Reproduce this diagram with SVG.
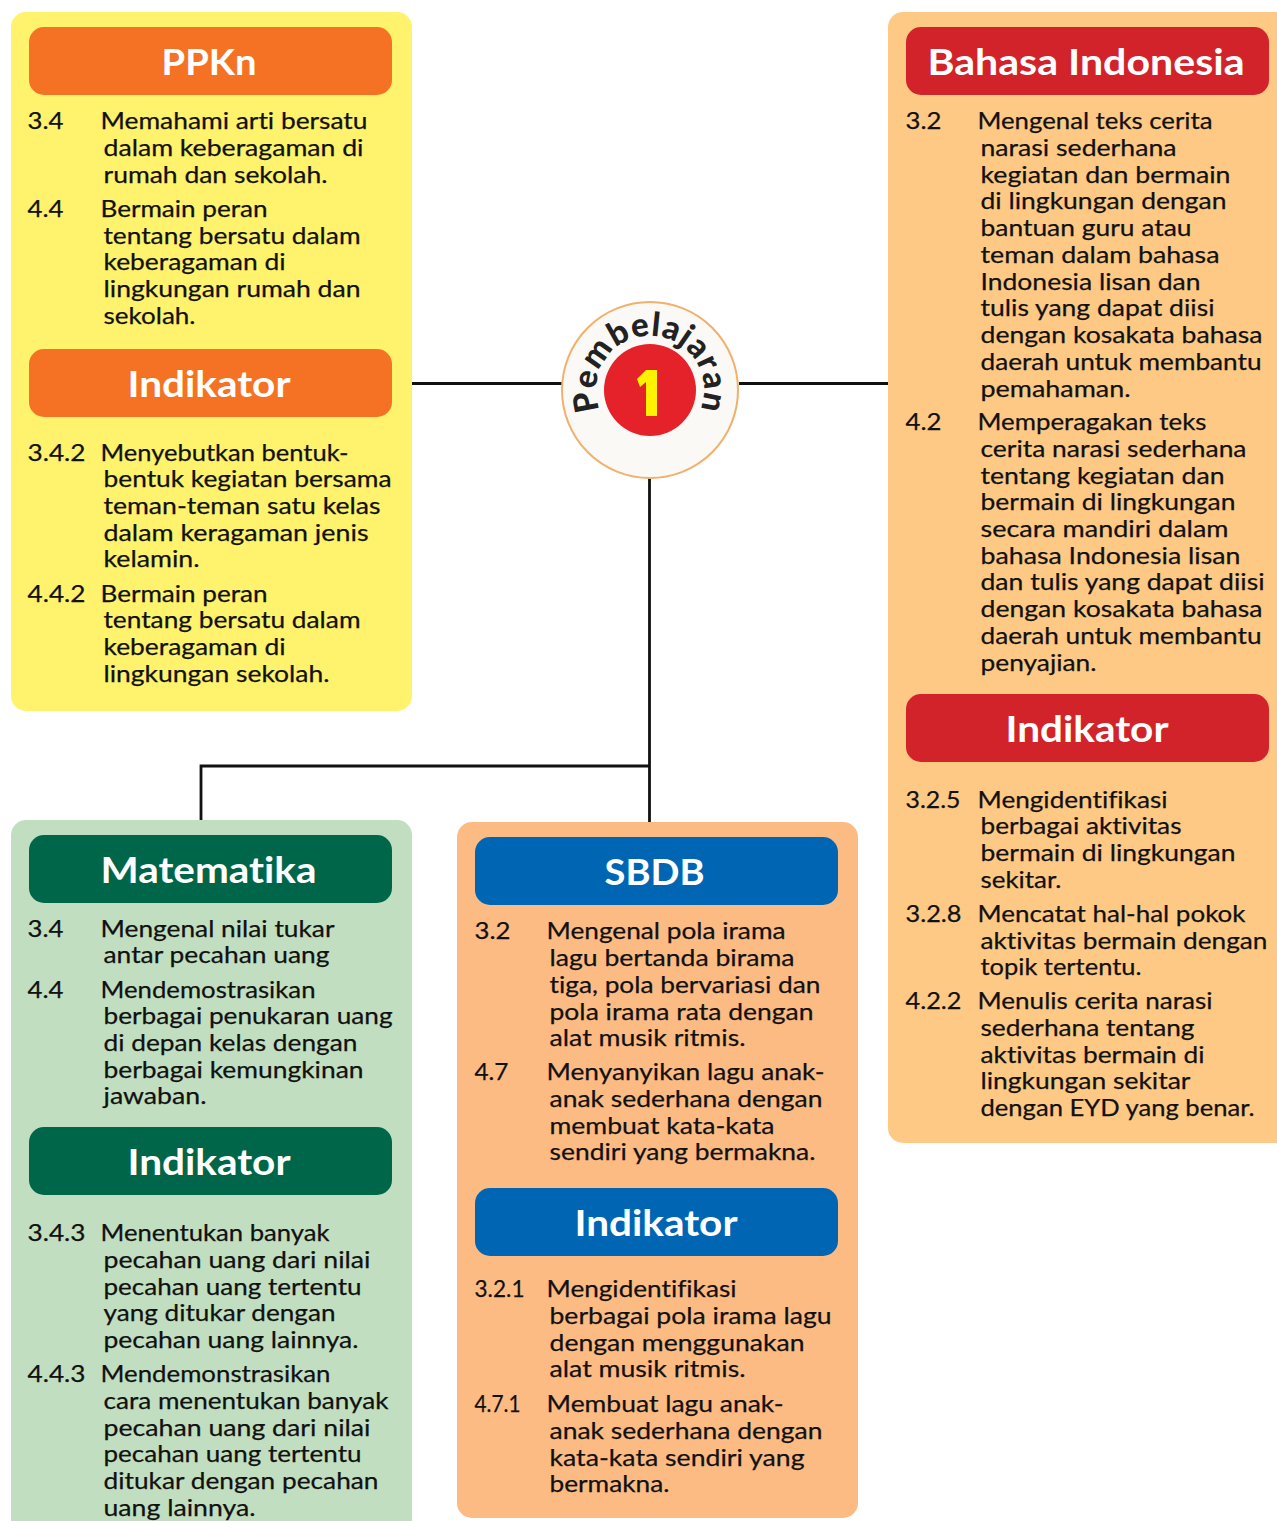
<svg xmlns="http://www.w3.org/2000/svg" width="1277" height="1521" viewBox="0 0 1277 1521">
<style>
text{font-family:"Lato","Noto Sans",sans-serif;font-variant-ligatures:none}
.t{font-size:24px;fill:#111;stroke:#111;stroke-width:.25px;transform:translate(-.5px,-1px)}
.h{font-size:37px;font-weight:700;fill:#fff;text-anchor:start;transform:translate(-.5px,-1px)}
.c{fill:none;stroke:#111;stroke-width:2.8}
</style>
<rect width="1277" height="1521" fill="#fff"/>
<g id="connectors">
<path class="c" d="M412 383.5H562M739 383.5H888M649.5 478V822M649.5 766H201V820"/>
</g>
<g id="ppkn">
<rect x="11" y="12" width="401" height="699" rx="15" fill="#fff26c"/>
<rect x="29" y="27" width="363" height="68" rx="15" fill="#f57224"/>
<text class="h" x="162" y="76" textLength="95" lengthAdjust="spacingAndGlyphs">PPKn</text>
<text class="t" x="28" y="130" textLength="36" lengthAdjust="spacingAndGlyphs">3.4</text>
<text class="t" x="101" y="130" textLength="267" lengthAdjust="spacingAndGlyphs">Memahami arti bersatu</text>
<text class="t" x="104" y="157" textLength="260" lengthAdjust="spacingAndGlyphs">dalam keberagaman di</text>
<text class="t" x="104" y="184" textLength="224" lengthAdjust="spacingAndGlyphs">rumah dan sekolah.</text>
<text class="t" x="28" y="218" textLength="36" lengthAdjust="spacingAndGlyphs">4.4</text>
<text class="t" x="101" y="218" textLength="167" lengthAdjust="spacingAndGlyphs">Bermain peran</text>
<text class="t" x="104" y="245" textLength="257" lengthAdjust="spacingAndGlyphs">tentang bersatu dalam</text>
<text class="t" x="104" y="271" textLength="182" lengthAdjust="spacingAndGlyphs">keberagaman di</text>
<text class="t" x="104" y="298" textLength="257" lengthAdjust="spacingAndGlyphs">lingkungan rumah dan</text>
<text class="t" x="104" y="325" textLength="92" lengthAdjust="spacingAndGlyphs">sekolah.</text>
<rect x="29" y="349" width="363" height="68" rx="15" fill="#f57224"/>
<text class="h" x="128" y="398" textLength="163" lengthAdjust="spacingAndGlyphs">Indikator</text>
<text class="t" x="28" y="462" textLength="58" lengthAdjust="spacingAndGlyphs">3.4.2</text>
<text class="t" x="101" y="462" textLength="248" lengthAdjust="spacingAndGlyphs">Menyebutkan bentuk-</text>
<text class="t" x="104" y="488" textLength="288" lengthAdjust="spacingAndGlyphs">bentuk kegiatan bersama</text>
<text class="t" x="104" y="515" textLength="277" lengthAdjust="spacingAndGlyphs">teman-teman satu kelas</text>
<text class="t" x="104" y="542" textLength="265" lengthAdjust="spacingAndGlyphs">dalam keragaman jenis</text>
<text class="t" x="104" y="568" textLength="96" lengthAdjust="spacingAndGlyphs">kelamin.</text>
<text class="t" x="28" y="603" textLength="58" lengthAdjust="spacingAndGlyphs">4.4.2</text>
<text class="t" x="101" y="603" textLength="167" lengthAdjust="spacingAndGlyphs">Bermain peran</text>
<text class="t" x="104" y="629" textLength="257" lengthAdjust="spacingAndGlyphs">tentang bersatu dalam</text>
<text class="t" x="104" y="656" textLength="182" lengthAdjust="spacingAndGlyphs">keberagaman di</text>
<text class="t" x="104" y="683" textLength="226" lengthAdjust="spacingAndGlyphs">lingkungan sekolah.</text>
</g>
<g id="pembelajaran">
<circle cx="650" cy="390" r="88" fill="#fbf9f6" stroke="#f2b06c" stroke-width="2"/>
<circle cx="650" cy="390" r="46" fill="#e5222a"/>
<path d="M637 379 L646 370 H657 V416 H646 V382 L640 387Z" fill="#fff200"/>
<defs><path id="arc" d="M597.4 402 A54 54 0 1 1 702.6 402"/></defs>
<text font-size="33" font-weight="900" fill="#222" letter-spacing=".8" text-anchor="middle"><textPath href="#arc" startOffset="50%">Pembelajaran</textPath></text>
</g>
<g id="bahasa-indonesia">
<rect x="888" y="12" width="405" height="1131" rx="15" fill="#fec985"/>
<rect x="906" y="27" width="363" height="68" rx="15" fill="#d2232a"/>
<text class="h" x="928" y="76" textLength="317" lengthAdjust="spacingAndGlyphs">Bahasa Indonesia</text>
<text class="t" x="906" y="130" textLength="36" lengthAdjust="spacingAndGlyphs">3.2</text>
<text class="t" x="978" y="130" textLength="235" lengthAdjust="spacingAndGlyphs">Mengenal teks cerita</text>
<text class="t" x="981" y="157" textLength="196" lengthAdjust="spacingAndGlyphs">narasi sederhana</text>
<text class="t" x="981" y="184" textLength="250" lengthAdjust="spacingAndGlyphs">kegiatan dan bermain</text>
<text class="t" x="981" y="210" textLength="246" lengthAdjust="spacingAndGlyphs">di lingkungan dengan</text>
<text class="t" x="981" y="237" textLength="211" lengthAdjust="spacingAndGlyphs">bantuan guru atau</text>
<text class="t" x="981" y="264" textLength="239" lengthAdjust="spacingAndGlyphs">teman dalam bahasa</text>
<text class="t" x="981" y="291" textLength="220" lengthAdjust="spacingAndGlyphs">Indonesia lisan dan</text>
<text class="t" x="981" y="317" textLength="234" lengthAdjust="spacingAndGlyphs">tulis yang dapat diisi</text>
<text class="t" x="981" y="344" textLength="282" lengthAdjust="spacingAndGlyphs">dengan kosakata bahasa</text>
<text class="t" x="981" y="371" textLength="281" lengthAdjust="spacingAndGlyphs">daerah untuk membantu</text>
<text class="t" x="981" y="398" textLength="150" lengthAdjust="spacingAndGlyphs">pemahaman.</text>
<text class="t" x="906" y="431" textLength="36" lengthAdjust="spacingAndGlyphs">4.2</text>
<text class="t" x="978" y="431" textLength="229" lengthAdjust="spacingAndGlyphs">Memperagakan teks</text>
<text class="t" x="981" y="458" textLength="266" lengthAdjust="spacingAndGlyphs">cerita narasi sederhana</text>
<text class="t" x="981" y="485" textLength="244" lengthAdjust="spacingAndGlyphs">tentang kegiatan dan</text>
<text class="t" x="981" y="511" textLength="255" lengthAdjust="spacingAndGlyphs">bermain di lingkungan</text>
<text class="t" x="981" y="538" textLength="248" lengthAdjust="spacingAndGlyphs">secara mandiri dalam</text>
<text class="t" x="981" y="565" textLength="260" lengthAdjust="spacingAndGlyphs">bahasa Indonesia lisan</text>
<text class="t" x="981" y="591" textLength="284" lengthAdjust="spacingAndGlyphs">dan tulis yang dapat diisi</text>
<text class="t" x="981" y="618" textLength="282" lengthAdjust="spacingAndGlyphs">dengan kosakata bahasa</text>
<text class="t" x="981" y="645" textLength="281" lengthAdjust="spacingAndGlyphs">daerah untuk membantu</text>
<text class="t" x="981" y="672" textLength="116" lengthAdjust="spacingAndGlyphs">penyajian.</text>
<rect x="906" y="694" width="363" height="68" rx="15" fill="#d2232a"/>
<text class="h" x="1006" y="743" textLength="163" lengthAdjust="spacingAndGlyphs">Indikator</text>
<text class="t" x="906" y="809" textLength="55" lengthAdjust="spacingAndGlyphs">3.2.5</text>
<text class="t" x="978" y="809" textLength="190" lengthAdjust="spacingAndGlyphs">Mengidentifikasi</text>
<text class="t" x="981" y="835" textLength="201" lengthAdjust="spacingAndGlyphs">berbagai aktivitas</text>
<text class="t" x="981" y="862" textLength="255" lengthAdjust="spacingAndGlyphs">bermain di lingkungan</text>
<text class="t" x="981" y="889" textLength="81" lengthAdjust="spacingAndGlyphs">sekitar.</text>
<text class="t" x="906" y="923" textLength="56" lengthAdjust="spacingAndGlyphs">3.2.8</text>
<text class="t" x="978" y="923" textLength="268" lengthAdjust="spacingAndGlyphs">Mencatat hal-hal pokok</text>
<text class="t" x="981" y="950" textLength="287" lengthAdjust="spacingAndGlyphs">aktivitas bermain dengan</text>
<text class="t" x="981" y="976" textLength="161" lengthAdjust="spacingAndGlyphs">topik tertentu.</text>
<text class="t" x="906" y="1010" textLength="56" lengthAdjust="spacingAndGlyphs">4.2.2</text>
<text class="t" x="978" y="1010" textLength="235" lengthAdjust="spacingAndGlyphs">Menulis cerita narasi</text>
<text class="t" x="981" y="1037" textLength="214" lengthAdjust="spacingAndGlyphs">sederhana tentang</text>
<text class="t" x="981" y="1064" textLength="224" lengthAdjust="spacingAndGlyphs">aktivitas bermain di</text>
<text class="t" x="981" y="1090" textLength="210" lengthAdjust="spacingAndGlyphs">lingkungan sekitar</text>
<text class="t" x="981" y="1117" textLength="274" lengthAdjust="spacingAndGlyphs">dengan EYD yang benar.</text>
</g>
<g id="matematika">
<rect x="11" y="820" width="401" height="720" rx="15" fill="#c1dfc0"/>
<rect x="29" y="835" width="363" height="68" rx="15" fill="#00664a"/>
<text class="h" x="101" y="884" textLength="216" lengthAdjust="spacingAndGlyphs">Matematika</text>
<text class="t" x="28" y="938" textLength="36" lengthAdjust="spacingAndGlyphs">3.4</text>
<text class="t" x="101" y="938" textLength="234" lengthAdjust="spacingAndGlyphs">Mengenal nilai tukar</text>
<text class="t" x="104" y="964" textLength="226" lengthAdjust="spacingAndGlyphs">antar pecahan uang</text>
<text class="t" x="28" y="999" textLength="36" lengthAdjust="spacingAndGlyphs">4.4</text>
<text class="t" x="101" y="999" textLength="215" lengthAdjust="spacingAndGlyphs">Mendemostrasikan</text>
<text class="t" x="104" y="1025" textLength="289" lengthAdjust="spacingAndGlyphs">berbagai penukaran uang</text>
<text class="t" x="104" y="1052" textLength="254" lengthAdjust="spacingAndGlyphs">di depan kelas dengan</text>
<text class="t" x="104" y="1079" textLength="260" lengthAdjust="spacingAndGlyphs">berbagai kemungkinan</text>
<text class="t" x="104" y="1105" textLength="103" lengthAdjust="spacingAndGlyphs">jawaban.</text>
<rect x="29" y="1127" width="363" height="68" rx="15" fill="#00664a"/>
<text class="h" x="128" y="1176" textLength="163" lengthAdjust="spacingAndGlyphs">Indikator</text>
<text class="t" x="28" y="1242" textLength="58" lengthAdjust="spacingAndGlyphs">3.4.3</text>
<text class="t" x="101" y="1242" textLength="229" lengthAdjust="spacingAndGlyphs">Menentukan banyak</text>
<text class="t" x="104" y="1269" textLength="267" lengthAdjust="spacingAndGlyphs">pecahan uang dari nilai</text>
<text class="t" x="104" y="1296" textLength="258" lengthAdjust="spacingAndGlyphs">pecahan uang tertentu</text>
<text class="t" x="104" y="1322" textLength="232" lengthAdjust="spacingAndGlyphs">yang ditukar dengan</text>
<text class="t" x="104" y="1349" textLength="255" lengthAdjust="spacingAndGlyphs">pecahan uang lainnya.</text>
<text class="t" x="28" y="1383" textLength="58" lengthAdjust="spacingAndGlyphs">4.4.3</text>
<text class="t" x="101" y="1383" textLength="230" lengthAdjust="spacingAndGlyphs">Mendemonstrasikan</text>
<text class="t" x="104" y="1410" textLength="285" lengthAdjust="spacingAndGlyphs">cara menentukan banyak</text>
<text class="t" x="104" y="1437" textLength="267" lengthAdjust="spacingAndGlyphs">pecahan uang dari nilai</text>
<text class="t" x="104" y="1463" textLength="258" lengthAdjust="spacingAndGlyphs">pecahan uang tertentu</text>
<text class="t" x="104" y="1490" textLength="275" lengthAdjust="spacingAndGlyphs">ditukar dengan pecahan</text>
<text class="t" x="104" y="1517" textLength="152" lengthAdjust="spacingAndGlyphs">uang lainnya.</text>
</g>
<g id="sbdb">
<rect x="457" y="822" width="401" height="696" rx="15" fill="#fdbb84"/>
<rect x="475" y="837" width="363" height="68" rx="15" fill="#0066b3"/>
<text class="h" x="605" y="886" textLength="100" lengthAdjust="spacingAndGlyphs">SBDB</text>
<text class="t" x="475" y="940" textLength="36" lengthAdjust="spacingAndGlyphs">3.2</text>
<text class="t" x="547" y="940" textLength="239" lengthAdjust="spacingAndGlyphs">Mengenal pola irama</text>
<text class="t" x="550" y="967" textLength="245" lengthAdjust="spacingAndGlyphs">lagu bertanda birama</text>
<text class="t" x="550" y="994" textLength="271" lengthAdjust="spacingAndGlyphs">tiga, pola bervariasi dan</text>
<text class="t" x="550" y="1021" textLength="264" lengthAdjust="spacingAndGlyphs">pola irama rata dengan</text>
<text class="t" x="550" y="1047" textLength="196" lengthAdjust="spacingAndGlyphs">alat musik ritmis.</text>
<text class="t" x="475" y="1081" textLength="34" lengthAdjust="spacingAndGlyphs">4.7</text>
<text class="t" x="547" y="1081" textLength="278" lengthAdjust="spacingAndGlyphs">Menyanyikan lagu anak-</text>
<text class="t" x="550" y="1108" textLength="273" lengthAdjust="spacingAndGlyphs">anak sederhana dengan</text>
<text class="t" x="550" y="1135" textLength="225" lengthAdjust="spacingAndGlyphs">membuat kata-kata</text>
<text class="t" x="550" y="1161" textLength="266" lengthAdjust="spacingAndGlyphs">sendiri yang bermakna.</text>
<rect x="475" y="1188" width="363" height="68" rx="15" fill="#0066b3"/>
<text class="h" x="575" y="1237" textLength="163" lengthAdjust="spacingAndGlyphs">Indikator</text>
<text class="t" x="475" y="1298" textLength="50" lengthAdjust="spacingAndGlyphs">3.2.1</text>
<text class="t" x="547" y="1298" textLength="190" lengthAdjust="spacingAndGlyphs">Mengidentifikasi</text>
<text class="t" x="550" y="1325" textLength="282" lengthAdjust="spacingAndGlyphs">berbagai pola irama lagu</text>
<text class="t" x="550" y="1352" textLength="255" lengthAdjust="spacingAndGlyphs">dengan menggunakan</text>
<text class="t" x="550" y="1378" textLength="196" lengthAdjust="spacingAndGlyphs">alat musik ritmis.</text>
<text class="t" x="475" y="1413" textLength="46" lengthAdjust="spacingAndGlyphs">4.7.1</text>
<text class="t" x="547" y="1413" textLength="237" lengthAdjust="spacingAndGlyphs">Membuat lagu anak-</text>
<text class="t" x="550" y="1440" textLength="273" lengthAdjust="spacingAndGlyphs">anak sederhana dengan</text>
<text class="t" x="550" y="1467" textLength="255" lengthAdjust="spacingAndGlyphs">kata-kata sendiri yang</text>
<text class="t" x="550" y="1493" textLength="120" lengthAdjust="spacingAndGlyphs">bermakna.</text>
</g>
</svg>
